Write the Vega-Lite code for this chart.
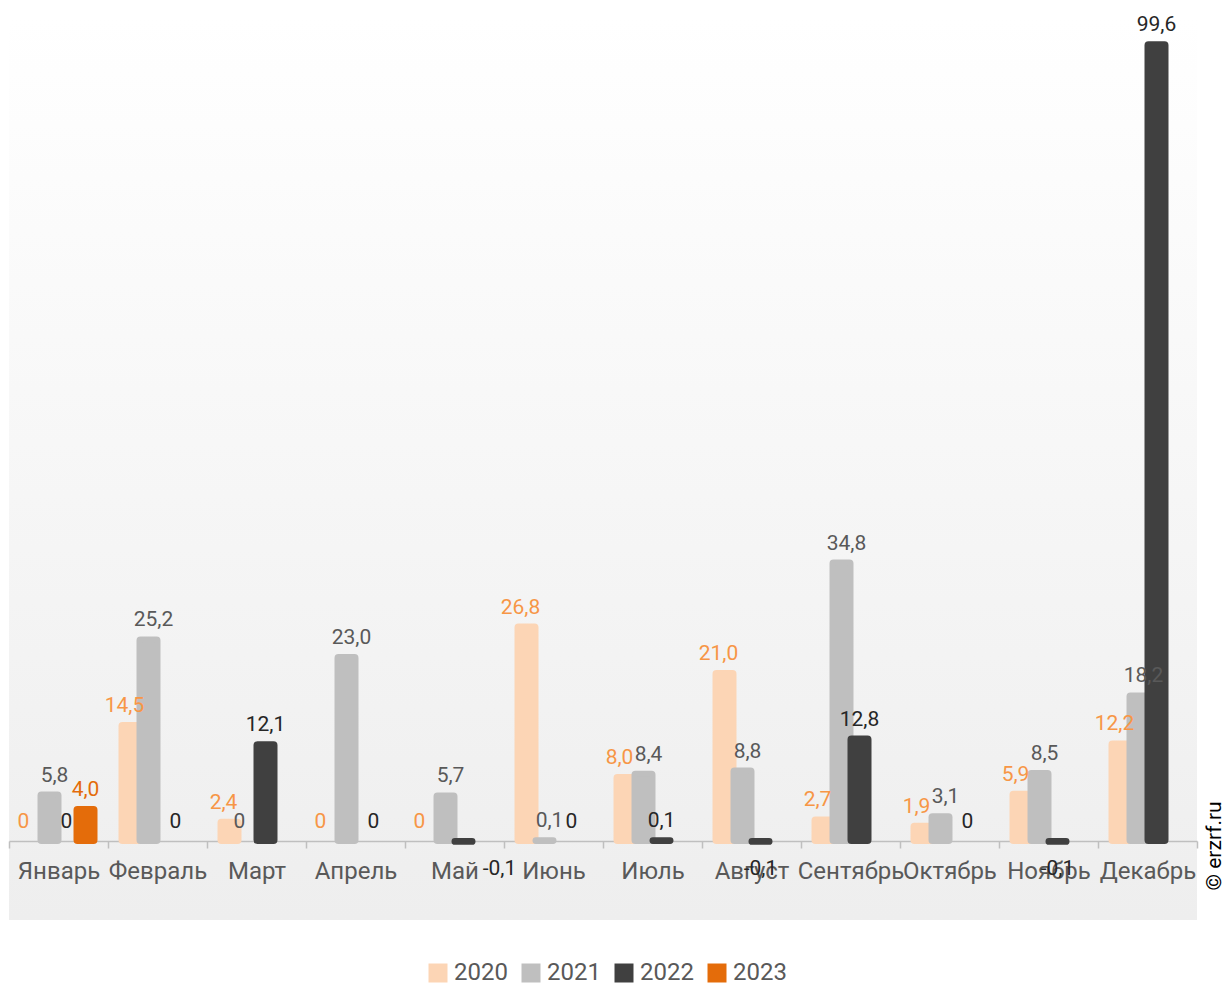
{
  "$schema": "https://vega.github.io/schema/vega-lite/v6.json",
  "autosize": "none",
  "width": 1188,
  "height": 902,
  "padding": {"left": 9, "top": 18, "right": 27, "bottom": 63},
  "background": "#ffffff",
  "config": {
    "font": "Roboto",
    "locale": {"number": {"decimal": ",", "thousands": " ", "grouping": [3], "currency": ["", ""], "minus": "-"}},
    "view": {"stroke": null, "fill": {"gradient": "linear", "x1": 0, "y1": 0, "x2": 0, "y2": 1, "stops": [{"offset": 0, "color": "#ffffff"}, {"offset": 1, "color": "#eeeeee"}]}}
  },
  "data": {"values": [
    {"month": "Январь", "year": "2020", "value": 0},
    {"month": "Январь", "year": "2021", "value": 5.8},
    {"month": "Январь", "year": "2022", "value": 0},
    {"month": "Январь", "year": "2023", "value": 4.0},
    {"month": "Февраль", "year": "2020", "value": 14.5},
    {"month": "Февраль", "year": "2021", "value": 25.2},
    {"month": "Февраль", "year": "2022", "value": 0},
    {"month": "Март", "year": "2020", "value": 2.4},
    {"month": "Март", "year": "2021", "value": 0},
    {"month": "Март", "year": "2022", "value": 12.1},
    {"month": "Апрель", "year": "2020", "value": 0},
    {"month": "Апрель", "year": "2021", "value": 23.0},
    {"month": "Апрель", "year": "2022", "value": 0},
    {"month": "Май", "year": "2020", "value": 0},
    {"month": "Май", "year": "2021", "value": 5.7},
    {"month": "Май", "year": "2022", "value": -0.1},
    {"month": "Июнь", "year": "2020", "value": 26.8},
    {"month": "Июнь", "year": "2021", "value": 0.1},
    {"month": "Июнь", "year": "2022", "value": 0},
    {"month": "Июль", "year": "2020", "value": 8.0},
    {"month": "Июль", "year": "2021", "value": 8.4},
    {"month": "Июль", "year": "2022", "value": 0.1},
    {"month": "Август", "year": "2020", "value": 21.0},
    {"month": "Август", "year": "2021", "value": 8.8},
    {"month": "Август", "year": "2022", "value": -0.1},
    {"month": "Сентябрь", "year": "2020", "value": 2.7},
    {"month": "Сентябрь", "year": "2021", "value": 34.8},
    {"month": "Сентябрь", "year": "2022", "value": 12.8},
    {"month": "Октябрь", "year": "2020", "value": 1.9},
    {"month": "Октябрь", "year": "2021", "value": 3.1},
    {"month": "Октябрь", "year": "2022", "value": 0},
    {"month": "Ноябрь", "year": "2020", "value": 5.9},
    {"month": "Ноябрь", "year": "2021", "value": 8.5},
    {"month": "Ноябрь", "year": "2022", "value": -0.1},
    {"month": "Декабрь", "year": "2020", "value": 12.2},
    {"month": "Декабрь", "year": "2021", "value": 18.2},
    {"month": "Декабрь", "year": "2022", "value": 99.6}
  ]},
  "encoding": {
    "x": {
      "field": "month", "type": "nominal",
      "sort": ["Январь", "Февраль", "Март", "Апрель", "Май", "Июнь", "Июль", "Август", "Сентябрь", "Октябрь", "Ноябрь", "Декабрь"],
      "scale": {"paddingInner": 0, "paddingOuter": 0},
      "axis": {"title": null, "offset": -79, "labelAngle": 0, "labelFontSize": 24, "labelColor": "#595959", "labelPadding": 11, "labelOverlap": false, "labelBound": false, "tickBand": "extent", "tickSize": 7, "tickColor": "#bfbfbf", "tickWidth": 1.5, "domainColor": "#bfbfbf", "domainWidth": 1.5, "grid": false}
    },
    "xOffset": {"field": "year", "type": "nominal", "scale": {"domain": ["2020", "2021", "2022", "2023"], "paddingInner": 0, "paddingOuter": 0.75}},
    "y": {"field": "value", "type": "quantitative", "scale": {"domain": [-9.875, 102.875], "nice": false, "zero": false},
      "axis": {"orient": "right", "title": "© erzrf.ru", "labels": false, "ticks": false, "domain": false, "grid": false, "titleAngle": 270, "titleFontSize": 21, "titleFontWeight": "normal", "titleColor": "#000000", "titleFont": "Roboto", "titleX": 6, "titleY": 872, "titleAlign": "left", "titleBaseline": "top"}}
  },
  "layer": [
    {
      "mark": {"type": "bar", "width": 18, "cornerRadius": 1},
      "encoding": {
        "color": {"field": "year", "type": "nominal", "scale": {"domain": ["2020", "2021", "2022", "2023"], "range": ["#fcd5b5", "#bfbfbf", "#404040", "#e46c0a"]},
          "legend": {"title": null, "orient": "none", "legendX": 417, "legendY": 943, "direction": "horizontal", "symbolType": "square", "symbolSize": 361, "symbolStrokeWidth": 0, "labelFontSize": 24, "labelColor": "#595959", "labelOffset": 4, "labelLimit": 300, "columnPadding": 11}},
        "stroke": {"field": "year", "type": "nominal", "scale": {"domain": ["2020", "2021", "2022", "2023"], "range": ["#fcd5b5", "#bfbfbf", "#404040", "#e46c0a"]}, "legend": null},
        "strokeWidth": {"condition": {"test": "datum.value == 0", "value": 0}, "value": 6},
        "y2": {"datum": 0}
      }
    },
    {
      "transform": [{"filter": "datum.value > 0 && datum.year == '2020'"}],
      "mark": {"type": "text", "fontSize": 21, "baseline": "alphabetic", "dy": -13, "dx": -6, "color": "#f79646"},
      "encoding": {"text": {"field": "value", "type": "quantitative", "format": ".1f"}}
    },
    {
      "transform": [{"filter": "datum.value > 0 && datum.year == '2021'"}],
      "mark": {"type": "text", "fontSize": 21, "baseline": "alphabetic", "dy": -13, "dx": 5, "color": "#595959"},
      "encoding": {"text": {"field": "value", "type": "quantitative", "format": ".1f"}}
    },
    {
      "transform": [{"filter": "datum.value > 0 && datum.year == '2022'"}],
      "mark": {"type": "text", "fontSize": 21, "baseline": "alphabetic", "dy": -13, "color": "#262626"},
      "encoding": {"text": {"field": "value", "type": "quantitative", "format": ".1f"}}
    },
    {
      "transform": [{"filter": "datum.value > 0 && datum.year == '2023'"}],
      "mark": {"type": "text", "fontSize": 21, "baseline": "alphabetic", "dy": -13, "color": "#e46c0a"},
      "encoding": {"text": {"field": "value", "type": "quantitative", "format": ".1f"}}
    },
    {
      "transform": [{"filter": "datum.value == 0 && datum.year == '2020'"}],
      "mark": {"type": "text", "fontSize": 21, "baseline": "alphabetic", "dy": -13, "dx": -8, "color": "#f79646"},
      "encoding": {"text": {"value": "0"}}
    },
    {
      "transform": [{"filter": "datum.value == 0 && datum.year == '2021'"}],
      "mark": {"type": "text", "fontSize": 21, "baseline": "alphabetic", "dy": -13, "dx": -8, "color": "#595959"},
      "encoding": {"text": {"value": "0"}}
    },
    {
      "transform": [{"filter": "datum.value == 0 && datum.year == '2022' && datum.month != 'Январь'"}],
      "mark": {"type": "text", "fontSize": 21, "baseline": "alphabetic", "dy": -13, "dx": 9, "color": "#262626"},
      "encoding": {"text": {"value": "0"}}
    },
    {
      "transform": [{"filter": "datum.value == 0 && datum.year == '2022' && datum.month == 'Январь'"}],
      "mark": {"type": "text", "fontSize": 21, "baseline": "alphabetic", "dy": -13, "dx": -1, "color": "#262626"},
      "encoding": {"text": {"value": "0"}}
    },
    {
      "transform": [{"filter": "datum.value < 0 && datum.month != 'Май'"}],
      "mark": {"type": "text", "fontSize": 21, "baseline": "middle", "dy": 27, "color": "#262626"},
      "encoding": {"text": {"field": "value", "type": "quantitative", "format": ".1f"}}
    },
    {
      "transform": [{"filter": "datum.value < 0 && datum.month == 'Май'"}],
      "mark": {"type": "text", "fontSize": 21, "baseline": "middle", "dy": 27, "dx": 36, "color": "#262626"},
      "encoding": {"text": {"field": "value", "type": "quantitative", "format": ".1f"}}
    }
  ],
  "resolve": {"scale": {"color": "independent"}}
}
